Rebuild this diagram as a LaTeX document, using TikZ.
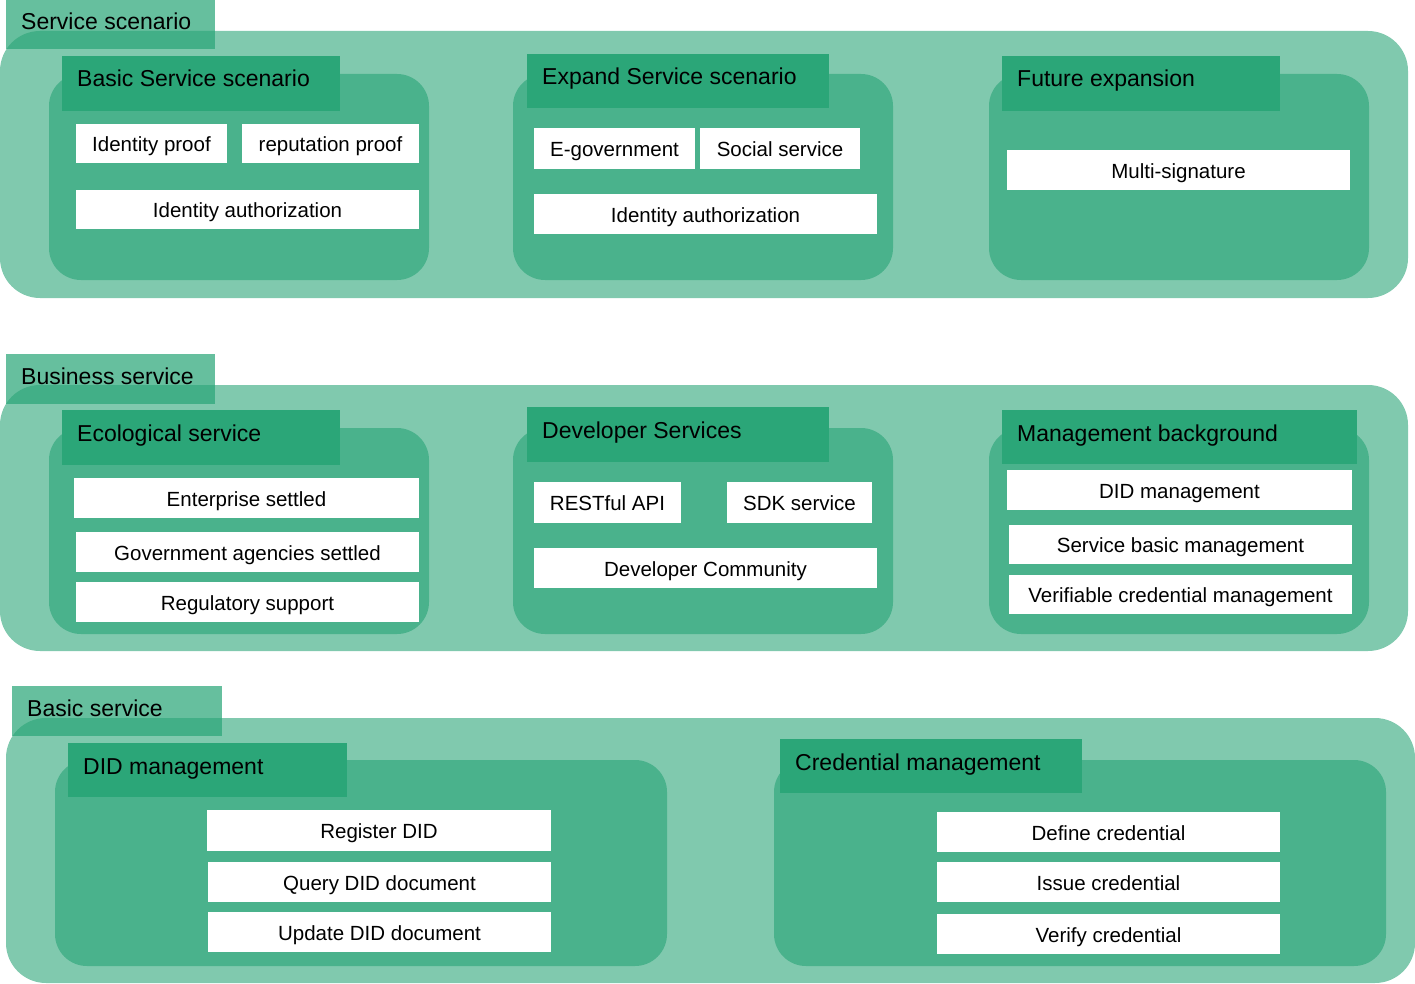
\documentclass[tikz,border=0pt]{standalone}
\usepackage{fontspec}
\setmainfont{Liberation Sans}
\definecolor{outerc}{HTML}{80C9AE}
\definecolor{innerc}{HTML}{4AB28C}
\definecolor{headc}{HTML}{2BA678}
\tikzset{
  layerbg/.style={fill=outerc, rounded corners=40pt},
  groupbg/.style={fill=innerc, rounded corners=32pt},
  labelbox/.style={fill=headc, fill opacity=0.72},
  headbox/.style={fill=headc},
  labeltext/.style={anchor=base west, font=\fontsize{23}{27}\selectfont, inner sep=0pt, text=black, yshift=-1pt},
  itembox/.style={fill=white, inner sep=0pt, outer sep=0pt, font=\fontsize{20.5}{24}\selectfont, text height=16.7pt, text depth=0pt, text=black},
}
\newcommand\itm[6]{\node[itembox, minimum width={(#4-#2)*1pt}, minimum height={(#5-#3)*1pt}] (#1) at ({(#2+#4)/2},{(#3+#5)/2}) {#6};}
\begin{document}
\begin{tikzpicture}[x=1pt,y=-1pt]
\useasboundingbox (0,0) rectangle (1415,984);
% ---------- Layer 1: Service scenario ----------
\fill[layerbg] (0,31) rectangle (1408,298);
\fill[labelbox] (6,0) rectangle (215,49);
\node[labeltext] (l1) at (21,29) {Service scenario};
\fill[groupbg] (49,74) rectangle (429,280);
\fill[groupbg] (513,74) rectangle (893,280);
\fill[groupbg] (989,74) rectangle (1369,280);
\fill[headbox] (62,56) rectangle (340,111);
\node[labeltext] (h11) at (77,86) {Basic Service scenario};
\fill[headbox] (527,54) rectangle (829,108);
\node[labeltext] (h12) at (542,83.5) {Expand Service scenario};
\fill[headbox] (1002,56) rectangle (1280,111);
\node[labeltext] (h13) at (1017,85.5) {Future expansion};
\itm{a1}{76}{124}{227}{163}{Identity proof}
\itm{a2}{242}{124}{419}{163}{reputation proof}
\itm{a3}{76}{190}{419}{229}{Identity authorization}
\itm{b1}{534}{128}{695}{169}{E-government}
\itm{b2}{700}{128}{860}{169}{Social service}
\itm{b3}{534}{194}{877}{234}{Identity authorization}
\itm{c1}{1007}{150}{1350}{190}{Multi-signature}
% ---------- Layer 2: Business service ----------
\fill[layerbg] (0,385) rectangle (1408,651);
\fill[labelbox] (6,354) rectangle (215,404);
\node[labeltext] (l2) at (21,383) {Business service};
\fill[groupbg] (49,428) rectangle (429,634);
\fill[groupbg] (513,428) rectangle (893,634);
\fill[groupbg] (989,428) rectangle (1369,634);
\fill[headbox] (62,410) rectangle (340,465);
\node[labeltext] (h21) at (77,440) {Ecological service};
\fill[headbox] (527,407) rectangle (829,462);
\node[labeltext] (h22) at (542,437) {Developer Services};
\fill[headbox] (1002,410) rectangle (1357,464);
\node[labeltext] (h23) at (1017,440) {Management background};
\itm{d1}{74}{478}{419}{518}{Enterprise settled}
\itm{d2}{76}{532}{419}{572}{Government agencies settled}
\itm{d3}{76}{582}{419}{622}{Regulatory support}
\itm{e1}{534}{482}{681}{523}{RESTful API}
\itm{e2}{727}{482}{872}{523}{SDK service}
\itm{e3}{534}{548}{877}{588}{Developer Community}
\itm{f1}{1007}{470}{1352}{510}{DID management}
\itm{f2}{1009}{525}{1352}{564}{Service basic management}
\itm{f3}{1009}{575}{1352}{614}{Verifiable credential management}
% ---------- Layer 3: Basic service ----------
\fill[layerbg] (6,718) rectangle (1415,983);
\fill[labelbox] (12,686) rectangle (222,736);
\node[labeltext] (l3) at (27,715) {Basic service};
\fill[groupbg] (55,760) rectangle (667,966);
\fill[groupbg] (774,760) rectangle (1386,966);
\fill[headbox] (68,743) rectangle (347,797);
\node[labeltext] (h31) at (83,773) {DID management};
\fill[headbox] (780,739) rectangle (1082,793);
\node[labeltext] (h32) at (795,769) {Credential management};
\itm{g1}{207}{810}{551}{851}{Register DID}
\itm{g2}{208}{862}{551}{902}{Query DID document}
\itm{g3}{208}{912}{551}{952}{Update DID document}
\itm{k1}{937}{812}{1280}{852}{Define credential}
\itm{k2}{937}{862}{1280}{902}{Issue credential}
\itm{k3}{937}{914}{1280}{954}{Verify credential}
\end{tikzpicture}
\end{document}
